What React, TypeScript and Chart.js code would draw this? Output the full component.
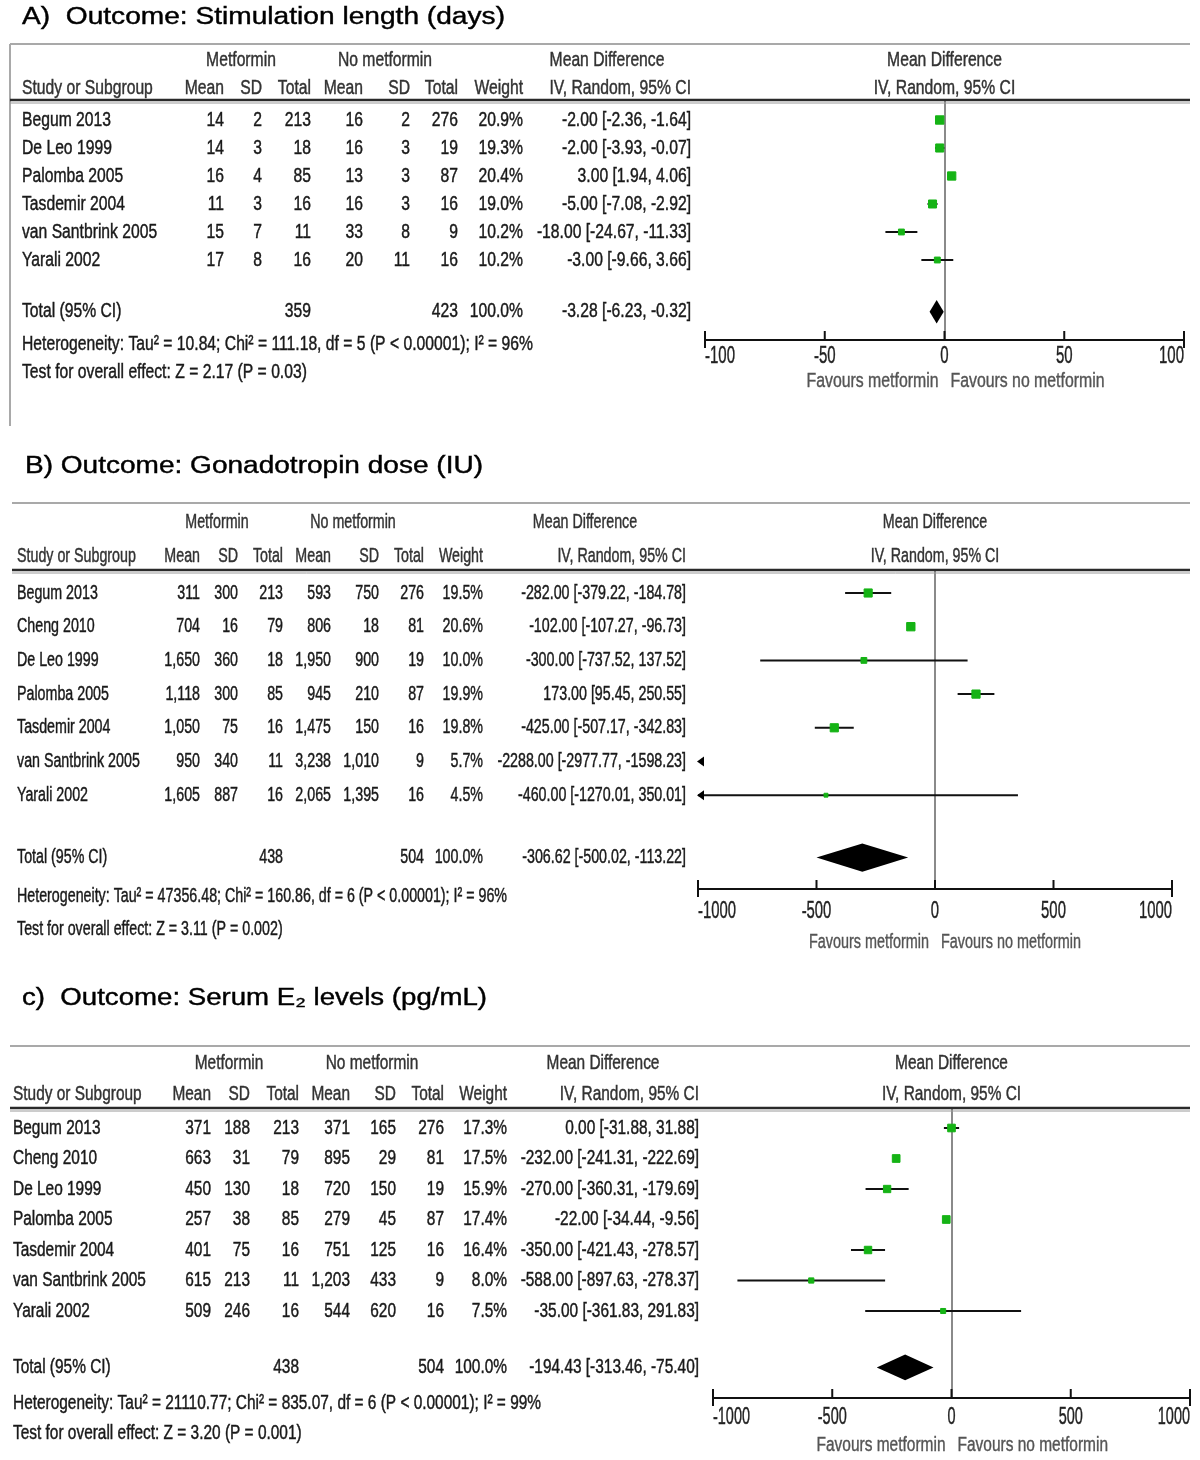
import React, { useEffect, useRef } from "react";
import { Chart, registerables } from "chart.js";

Chart.register(...registerables);

const BODY_FONT = '"Liberation Sans", Arial, sans-serif';
const TITLE_FONT = '"Liberation Sans", Arial, sans-serif';
const TOTAL_GAP = 0.85;

// ---------- Panel A: Stimulation length (days) ----------
const studiesA = ["Begum 2013", "De Leo 1999", "Palomba 2005", "Tasdemir 2004", "van Santbrink 2005", "Yarali 2002"];
const metMeanA = [14, 14, 16, 11, 15, 17];
const metSDA = [2, 3, 4, 3, 7, 8];
const metTotalA = [213, 18, 85, 16, 11, 16];
const noMeanA = [16, 16, 13, 16, 33, 20];
const noSDA = [2, 3, 3, 3, 8, 11];
const noTotalA = [276, 19, 87, 16, 9, 16];
const weightA = [20.9, 19.3, 20.4, 19.0, 10.2, 10.2];
const mdA = [-2.0, -2.0, 3.0, -5.0, -18.0, -3.0];
const loA = [-2.36, -3.93, 1.94, -7.08, -24.67, -9.66];
const hiA = [-1.64, -0.07, 4.06, -2.92, -11.33, 3.66];
const totalA = { met: 359, no: 423, md: -3.28, lo: -6.23, hi: -0.32 };
const hetA = "Heterogeneity: Tau\u00b2 = 10.84; Chi\u00b2 = 111.18, df = 5 (P < 0.00001); I\u00b2 = 96%";
const testA = "Test for overall effect: Z = 2.17 (P = 0.03)";
const ticksA = [-100, -50, 0, 50, 100];

// ---------- Panel B: Gonadotropin dose (IU) ----------
const studiesB = ["Begum 2013", "Cheng 2010", "De Leo 1999", "Palomba 2005", "Tasdemir 2004", "van Santbrink 2005", "Yarali 2002"];
const metMeanB = [311, 704, 1650, 1118, 1050, 950, 1605];
const metSDB = [300, 16, 360, 300, 75, 340, 887];
const metTotalB = [213, 79, 18, 85, 16, 11, 16];
const noMeanB = [593, 806, 1950, 945, 1475, 3238, 2065];
const noSDB = [750, 18, 900, 210, 150, 1010, 1395];
const noTotalB = [276, 81, 19, 87, 16, 9, 16];
const weightB = [19.5, 20.6, 10.0, 19.9, 19.8, 5.7, 4.5];
const mdB = [-282.0, -102.0, -300.0, 173.0, -425.0, -2288.0, -460.0];
const loB = [-379.22, -107.27, -737.52, 95.45, -507.17, -2977.77, -1270.01];
const hiB = [-184.78, -96.73, 137.52, 250.55, -342.83, -1598.23, 350.01];
const totalB = { met: 438, no: 504, md: -306.62, lo: -500.02, hi: -113.22 };
const hetB = "Heterogeneity: Tau\u00b2 = 47356.48; Chi\u00b2 = 160.86, df = 6 (P < 0.00001); I\u00b2 = 96%";
const testB = "Test for overall effect: Z = 3.11 (P = 0.002)";
const ticksB = [-1000, -500, 0, 500, 1000];

// ---------- Panel C: Serum E2 levels (pg/mL) ----------
const studiesC = ["Begum 2013", "Cheng 2010", "De Leo 1999", "Palomba 2005", "Tasdemir 2004", "van Santbrink 2005", "Yarali 2002"];
const metMeanC = [371, 663, 450, 257, 401, 615, 509];
const metSDC = [188, 31, 130, 38, 75, 213, 246];
const metTotalC = [213, 79, 18, 85, 16, 11, 16];
const noMeanC = [371, 895, 720, 279, 751, 1203, 544];
const noSDC = [165, 29, 150, 45, 125, 433, 620];
const noTotalC = [276, 81, 19, 87, 16, 9, 16];
const weightC = [17.3, 17.5, 15.9, 17.4, 16.4, 8.0, 7.5];
const mdC = [0.0, -232.0, -270.0, -22.0, -350.0, -588.0, -35.0];
const loC = [-31.88, -241.31, -360.31, -34.44, -421.43, -897.63, -361.83];
const hiC = [31.88, -222.69, -179.69, -9.56, -278.57, -278.37, 291.83];
const totalC = { met: 438, no: 504, md: -194.43, lo: -313.46, hi: -75.4 };
const hetC = "Heterogeneity: Tau\u00b2 = 21110.77; Chi\u00b2 = 835.07, df = 6 (P < 0.00001); I\u00b2 = 99%";
const testC = "Test for overall effect: Z = 3.20 (P = 0.001)";
const ticksC = [-1000, -500, 0, 500, 1000];

const fmtInt = (n: number) => n.toLocaleString("en-US");
const fmtCI = (m: number, lo: number, hi: number) => `${m.toFixed(2)} [${lo.toFixed(2)}, ${hi.toFixed(2)}]`;

type PanelData = {
  title: string;
  studies: string[];
  metMean: number[]; metSD: number[]; metTotal: number[];
  noMean: number[]; noSD: number[]; noTotal: number[];
  weight: number[]; md: number[]; lo: number[]; hi: number[];
  total: { met: number; no: number; md: number; lo: number; hi: number };
  het: string; test: string; ticks: number[];
};

type Layout = {
  top: number; height: number;
  titleX: number; titleY: number; titleW: number;
  topLineY: number; lineX0: number; leftBorderEnd?: number;
  head1Y: number; head2Y: number; ruleY: number;
  firstRowY: number; pitch: number;
  hetY: number; testY: number; axisY: number; tickLabelY: number; tickW: number; favY: number; favW: number;
  studyX: number; cols: number[]; grp1: number; grp2: number; mdHeadX: number;
  xLeft: number; xRight: number; hetW: number;
};

const panels: { data: PanelData; layout: Layout }[] = [
  {
    data: {
      title: "A)  Outcome: Stimulation length (days)",
      studies: studiesA, metMean: metMeanA, metSD: metSDA, metTotal: metTotalA,
      noMean: noMeanA, noSD: noSDA, noTotal: noTotalA, weight: weightA,
      md: mdA, lo: loA, hi: hiA, total: totalA, het: hetA, test: testA, ticks: ticksA,
    },
    layout: {
      top: 0, height: 430, titleX: 22, titleY: 18, titleW: 483,
      topLineY: 44, lineX0: 10, leftBorderEnd: 426,
      head1Y: 60, head2Y: 88, ruleY: 101, firstRowY: 120, pitch: 28,
      hetY: 344, testY: 372, axisY: 340, tickLabelY: 357, tickW: 30, favY: 381, favW: 132,
      studyX: 22, cols: [224, 262, 311, 363, 410, 458, 523, 691], grp1: 241, grp2: 385, mdHeadX: 607,
      xLeft: 705, xRight: 1184, hetW: 511,
    },
  },
  {
    data: {
      title: "B) Outcome: Gonadotropin dose (IU)",
      studies: studiesB, metMean: metMeanB, metSD: metSDB, metTotal: metTotalB,
      noMean: noMeanB, noSD: noSDB, noTotal: noTotalB, weight: weightB,
      md: mdB, lo: loB, hi: hiB, total: totalB, het: hetB, test: testB, ticks: ticksB,
    },
    layout: {
      top: 430, height: 540, titleX: 25, titleY: 467, titleW: 458,
      topLineY: 503, lineX0: 12,
      head1Y: 522, head2Y: 556, ruleY: 571, firstRowY: 593, pitch: 33.7,
      hetY: 896, testY: 929, axisY: 889, tickLabelY: 912, tickW: 38, favY: 942, favW: 120,
      studyX: 17, cols: [200, 238, 283, 331, 379, 424, 483, 686], grp1: 217, grp2: 353, mdHeadX: 585,
      xLeft: 698, xRight: 1172, hetW: 490,
    },
  },
  {
    data: {
      title: "c)  Outcome: Serum E\u2082 levels (pg/mL)",
      studies: studiesC, metMean: metMeanC, metSD: metSDC, metTotal: metTotalC,
      noMean: noMeanC, noSD: noSDC, noTotal: noTotalC, weight: weightC,
      md: mdC, lo: loC, hi: hiC, total: totalC, het: hetC, test: testC, ticks: ticksC,
    },
    layout: {
      top: 970, height: 490, titleX: 22, titleY: 999, titleW: 465,
      topLineY: 1046, lineX0: 10,
      head1Y: 1063, head2Y: 1094, ruleY: 1109, firstRowY: 1128, pitch: 30.5,
      hetY: 1403, testY: 1433, axisY: 1398, tickLabelY: 1418, tickW: 37, favY: 1445, favW: 129,
      studyX: 13, cols: [211, 250, 299, 350, 396, 444, 507, 699], grp1: 229, grp2: 372, mdHeadX: 603,
      xLeft: 713, xRight: 1190, hetW: 528,
    },
  },
];

function makePlugin(d: PanelData, L: Layout) {
  return {
    id: "forestTable",
    afterDraw(chart: any) {
      const ctx: CanvasRenderingContext2D = chart.ctx;
      const xs = chart.scales.x;
      const ys = chart.scales.y;
      const Y = (y: number) => y - L.top;
      const n = d.studies.length;

      const seg = (x0: number, y0: number, x1: number, y1: number) => {
        ctx.beginPath();
        ctx.moveTo(x0, y0);
        ctx.lineTo(x1, y1);
        ctx.stroke();
      };
      const txt = (s: string, x: number, y: number, align: CanvasTextAlign, sx: number, weight = 0) => {
        ctx.save();
        ctx.translate(x, y);
        ctx.scale(sx, 1);
        ctx.textAlign = align;
        ctx.textBaseline = "middle";
        ctx.fillText(s, 0, 0);
        if (weight > 0) {
          ctx.strokeStyle = ctx.fillStyle as string;
          ctx.lineWidth = weight;
          ctx.strokeText(s, 0, 0);
        }
        ctx.restore();
      };

      ctx.save();
      // frame lines
      ctx.strokeStyle = "#a9a9a9";
      ctx.lineWidth = 2;
      seg(L.lineX0, Y(L.topLineY), 1190, Y(L.topLineY));
      if (L.leftBorderEnd) seg(L.lineX0, Y(L.topLineY), L.lineX0, Y(L.leftBorderEnd));
      ctx.strokeStyle = "#2a2a2a";
      ctx.lineWidth = 2.5;
      seg(L.lineX0, Y(L.ruleY) - 1, 1190, Y(L.ruleY) - 1);
      ctx.strokeStyle = "#9a9a9a";
      ctx.lineWidth = 1;
      seg(L.lineX0, Y(L.ruleY) + 2, 1190, Y(L.ruleY) + 2);

      // title
      ctx.fillStyle = "#000";
      ctx.font = `23px ${TITLE_FONT}`;
      const tw = ctx.measureText(d.title).width;
      txt(d.title, L.titleX, Y(L.titleY), "left", L.titleW / tw, 0.4);

      // table text
      const W = 0.45;
      ctx.font = `20px ${BODY_FONT}`;
      const sx = L.hetW / ctx.measureText(d.het).width;
      const zeroX = xs.getPixelForValue(0);
      ctx.fillStyle = "#333";
      txt("Metformin", L.grp1, Y(L.head1Y), "center", sx, W);
      txt("No metformin", L.grp2, Y(L.head1Y), "center", sx, W);
      txt("Mean Difference", L.mdHeadX, Y(L.head1Y), "center", sx, W);
      txt("Mean Difference", zeroX, Y(L.head1Y), "center", sx, W);
      const heads = ["Mean", "SD", "Total", "Mean", "SD", "Total", "Weight", "IV, Random, 95% CI"];
      txt("Study or Subgroup", L.studyX, Y(L.head2Y), "left", sx, W);
      heads.forEach((h, i) => txt(h, L.cols[i], Y(L.head2Y), "right", sx, W));
      txt("IV, Random, 95% CI", zeroX, Y(L.head2Y), "center", sx, W);

      ctx.fillStyle = "#1a1a1a";
      for (let i = 0; i < n; i++) {
        const y = ys.getPixelForValue(i);
        const vals = [
          fmtInt(d.metMean[i]), fmtInt(d.metSD[i]), fmtInt(d.metTotal[i]),
          fmtInt(d.noMean[i]), fmtInt(d.noSD[i]), fmtInt(d.noTotal[i]),
          d.weight[i].toFixed(1) + "%", fmtCI(d.md[i], d.lo[i], d.hi[i]),
        ];
        txt(d.studies[i], L.studyX, y, "left", sx, W);
        vals.forEach((v, k) => txt(v, L.cols[k], y, "right", sx, W));
      }
      const tp = n + TOTAL_GAP;
      const ty = ys.getPixelForValue(tp);
      txt("Total (95% CI)", L.studyX, ty, "left", sx, W);
      txt(String(d.total.met), L.cols[2], ty, "right", sx, W);
      txt(String(d.total.no), L.cols[5], ty, "right", sx, W);
      txt("100.0%", L.cols[6], ty, "right", sx, W);
      txt(fmtCI(d.total.md, d.total.lo, d.total.hi), L.cols[7], ty, "right", sx, W);
      txt(d.het, L.studyX, Y(L.hetY), "left", sx, W);
      txt(d.test, L.studyX, Y(L.testY), "left", sx, W);

      // diamond for pooled estimate
      const half = Math.abs(ys.getPixelForValue(tp + 0.42) - ty);
      ctx.fillStyle = "#000";
      ctx.beginPath();
      ctx.moveTo(xs.getPixelForValue(d.total.lo), ty);
      ctx.lineTo(xs.getPixelForValue(d.total.md), ty - half);
      ctx.lineTo(xs.getPixelForValue(d.total.hi), ty);
      ctx.lineTo(xs.getPixelForValue(d.total.md), ty + half);
      ctx.closePath();
      ctx.fill();

      // arrowheads for intervals running past the axis
      const area = chart.chartArea;
      for (let i = 0; i < n; i++) {
        const y = ys.getPixelForValue(i);
        if (d.lo[i] < xs.min) {
          ctx.beginPath();
          ctx.moveTo(area.left - 1, y);
          ctx.lineTo(area.left + 6, y - 5);
          ctx.lineTo(area.left + 6, y + 5);
          ctx.closePath();
          ctx.fill();
        }
        if (d.hi[i] > xs.max) {
          ctx.beginPath();
          ctx.moveTo(area.right + 1, y);
          ctx.lineTo(area.right - 6, y - 5);
          ctx.lineTo(area.right - 6, y + 5);
          ctx.closePath();
          ctx.fill();
        }
      }

      // upward tick marks and tick labels of the x axis
      ctx.strokeStyle = "#111";
      ctx.lineWidth = 2;
      const ab = area.bottom;
      ctx.font = `23px ${BODY_FONT}`;
      ctx.fillStyle = "#222";
      const tsx = L.tickW / ctx.measureText(String(xs.ticks[0].value)).width;
      xs.ticks.forEach((t: any, i: number) => {
        const px = xs.getPixelForTick(i);
        const first = i === 0;
        const last = i === xs.ticks.length - 1;
        ctx.strokeStyle = "#111";
        ctx.lineWidth = 2;
        seg(px, ab - 9, px, ab + (first || last ? 8 : 0));
        const label = String(t.value);
        txt(label, px, Y(L.tickLabelY), first ? "left" : last ? "right" : "center", tsx, 0.4);
      });

      // favours labels
      ctx.font = `20px ${BODY_FONT}`;
      ctx.fillStyle = "#555";
      const fsx = L.favW / ctx.measureText("Favours metformin").width;
      txt("Favours metformin", zeroX - 6, Y(L.favY), "right", fsx, 0.4);
      txt("Favours no metformin", zeroX + 6, Y(L.favY), "left", fsx, 0.4);
      ctx.restore();
    },
  };
}

function ForestPanel({ data, layout }: { data: PanelData; layout: Layout }) {
  const ref = useRef<HTMLCanvasElement | null>(null);
  useEffect(() => {
    if (!ref.current) return;
    const L = layout;
    const d = data;
    const axisLocal = L.axisY - L.top;
    const yMin = -(L.firstRowY - L.ruleY) / L.pitch;
    const yMax = (L.axisY - L.firstRowY) / L.pitch;
    const ciSets = d.studies.map((s, i) => ({
      label: s,
      data: [{ x: d.lo[i], y: i }, { x: d.hi[i], y: i }],
      showLine: true,
      borderColor: "#111",
      borderWidth: 2,
      pointRadius: 0,
      order: 2,
    }));
    const pointSet = {
      label: "Mean difference",
      data: d.md.map((m, i) => ({ x: m, y: i })),
      showLine: false,
      pointStyle: "rect",
      pointRadius: d.weight.map((w) => 1.3 * Math.sqrt(w)),
      backgroundColor: "#15b315",
      borderColor: "#15b315",
      borderWidth: 1,
      order: 1,
    };
    const chart = new Chart(ref.current, {
      type: "scatter",
      data: { datasets: [pointSet, ...ciSets] as any },
      options: {
        responsive: false,
        animation: false,
        events: [],
        layout: {
          padding: {
            left: L.xLeft,
            right: 1200 - L.xRight,
            top: L.ruleY - L.top,
            bottom: L.height - axisLocal,
          },
        },
        plugins: { legend: { display: false }, tooltip: { enabled: false } },
        scales: {
          x: {
            type: "linear",
            position: "bottom",
            min: d.ticks[0],
            max: d.ticks[d.ticks.length - 1],
            afterBuildTicks: (scale: any) => {
              scale.ticks = d.ticks.map((v) => ({ value: v }));
            },
            ticks: { display: false },
            grid: {
              drawTicks: false,
              drawOnChartArea: true,
              lineWidth: 2,
              color: (c: any) => (c.tick && c.tick.value === 0 ? "#8a8a8a" : "rgba(0,0,0,0)"),
            },
            border: { display: true, color: "#111", width: 2 },
          },
          y: { type: "linear", display: false, reverse: true, min: yMin, max: yMax },
        },
      } as any,
      plugins: [makePlugin(d, L)],
    });
    return () => chart.destroy();
  }, [data, layout]);
  return (
    <canvas
      ref={ref}
      width={1200}
      height={layout.height}
      style={{ position: "absolute", left: 0, top: layout.top, width: 1200, height: layout.height }}
    />
  );
}

export default function App() {
  return (
    <div style={{ position: "absolute", left: 0, top: 0, width: 1200, height: 1460, background: "#fff", overflow: "hidden" }}>
      {panels.map((p, i) => (
        <ForestPanel key={i} data={p.data} layout={p.layout} />
      ))}
    </div>
  );
}
